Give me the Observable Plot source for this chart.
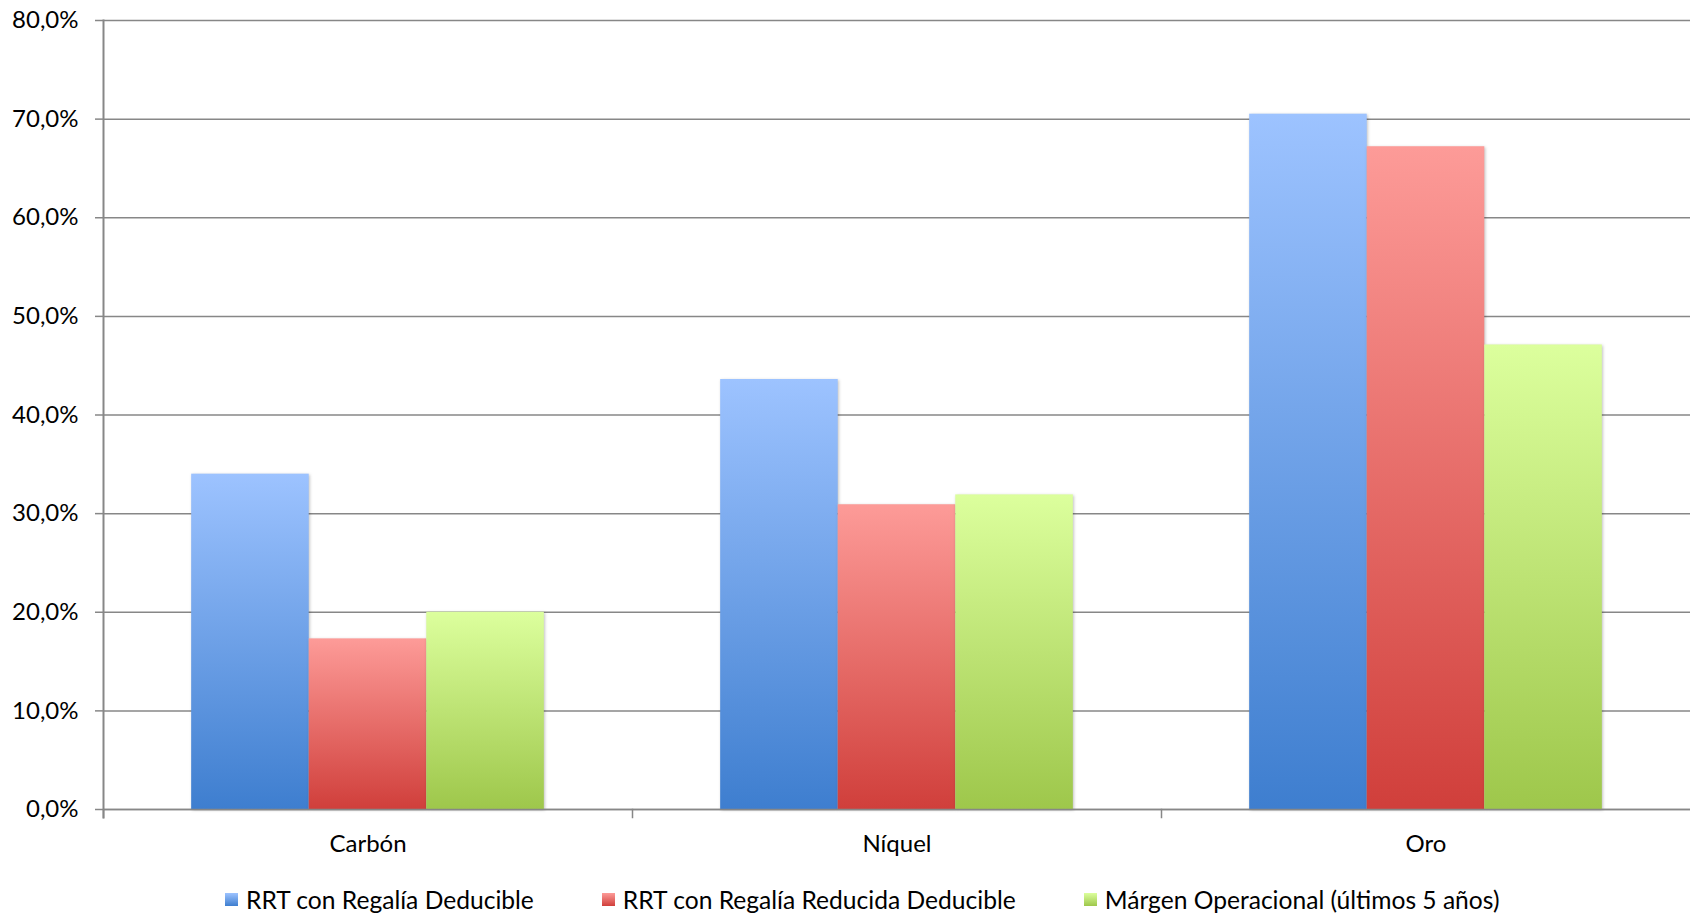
<!DOCTYPE html>
<html>
<head>
<meta charset="utf-8">
<script src="https://cdn.jsdelivr.net/npm/d3@7"></script>
<script src="https://cdn.jsdelivr.net/npm/@observablehq/plot@0.6"></script>
<style>
  html, body { margin: 0; padding: 0; background: #fff; }
  body { width: 1690px; height: 916px; overflow: hidden; font-family: Lato, "Open Sans", sans-serif; }
  #legend { display: flex; align-items: center; height: 40px; padding-left: 225px; margin-top: 9px; font-size: 24.6px; color: #000; }
  .item { display: flex; align-items: center; margin-right: 68px; }
  .sw { width: 13px; height: 13px; margin-right: 8px; }
  .bars { filter: drop-shadow(1px 1px 1.5px rgba(0,0,0,0.25)); }
</style>
</head>
<body>
<div id="chart"></div>
<div id="legend"></div>
<script>
const categories = ["Carbón", "Níquel", "Oro"];
const series = ["RRT con Regalía Deducible", "RRT con Regalía Reducida Deducible", "Márgen Operacional (últimos 5 años)"];
const rrtDeducible = [34.0, 43.6, 70.5];
const rrtReducida = [17.3, 30.9, 67.2];
const margenOperacional = [20.0, 31.9, 47.1];
const yTicks = [0, 10, 20, 30, 40, 50, 60, 70, 80];

const seriesValues = [rrtDeducible, rrtReducida, margenOperacional];
const gradients = [
  {id: "gBlue", top: "#9dc3ff", bottom: "#3e7ecf"},
  {id: "gRed", top: "#fd9b98", bottom: "#d03f3b"},
  {id: "gGreen", top: "#dcff9d", bottom: "#9ec74b"}
];

const rows = categories.flatMap((c, i) => series.map((s, j) => ({category: c, series: s, value: seriesValues[j][i]})));

const W = 1690, H = 870, mTop = 20, mBottom = 61, mLeft = 102;
const plotH = H - mTop - mBottom;
const gray = "#878787";
const fmt = d => d.toFixed(1).replace(".", ",") + "%";

const chart = Plot.plot({
  width: W,
  height: H,
  marginTop: mTop,
  marginBottom: mBottom,
  marginLeft: mLeft,
  marginRight: 0,
  style: {fontFamily: "Lato, 'Open Sans', sans-serif", fontSize: "24px", color: "#000", background: "#fff"},
  fx: {domain: categories, padding: 0, label: null},
  x: {domain: series, paddingInner: 0, paddingOuter: 0.75, round: false, axis: null},
  y: {domain: [0, 80], axis: null},
  marks: [
    Plot.gridY(yTicks, {stroke: gray, strokeOpacity: 1, strokeWidth: 1.5}),
    Plot.axisY(yTicks, {tickSize: 8, tickPadding: 17, tickFormat: fmt, stroke: gray, strokeWidth: 1.5, fill: "#000", fontSize: 24, label: null}),
    Plot.axisFx({anchor: "bottom", tickSize: 0, tickPadding: 25, fontSize: 24, fill: "#000", label: null}),
    ...series.map((s, j) => Plot.barY(rows.filter(r => r.series === s), {
      fx: "category", x: "series", y: "value", fill: `url(#${gradients[j].id})`, className: "bars"
    })),
    Plot.ruleY([0], {stroke: gray, strokeWidth: 1.5}),
    Plot.frame({anchor: "left", facetAnchor: "left", insetBottom: -8, stroke: gray, strokeWidth: 2}),
    Plot.frame({anchor: "left", insetTop: plotH, insetBottom: -8, stroke: gray, strokeWidth: 1.5})
  ]
});

const svg = d3.select(chart);
const defs = svg.insert("defs", ":first-child");
gradients.forEach(g => {
  const lg = defs.append("linearGradient").attr("id", g.id).attr("x1", 0).attr("y1", 0).attr("x2", 0).attr("y2", 1);
  lg.append("stop").attr("offset", "0%").attr("stop-color", g.top);
  lg.append("stop").attr("offset", "100%").attr("stop-color", g.bottom);
});
document.getElementById("chart").appendChild(chart);

const legend = d3.select("#legend");
series.forEach((s, j) => {
  const it = legend.append("div").attr("class", "item");
  it.append("div").attr("class", "sw").style("background", `linear-gradient(${gradients[j].top}, ${gradients[j].bottom})`);
  it.append("span").text(s);
});
</script>
</body>
</html>
